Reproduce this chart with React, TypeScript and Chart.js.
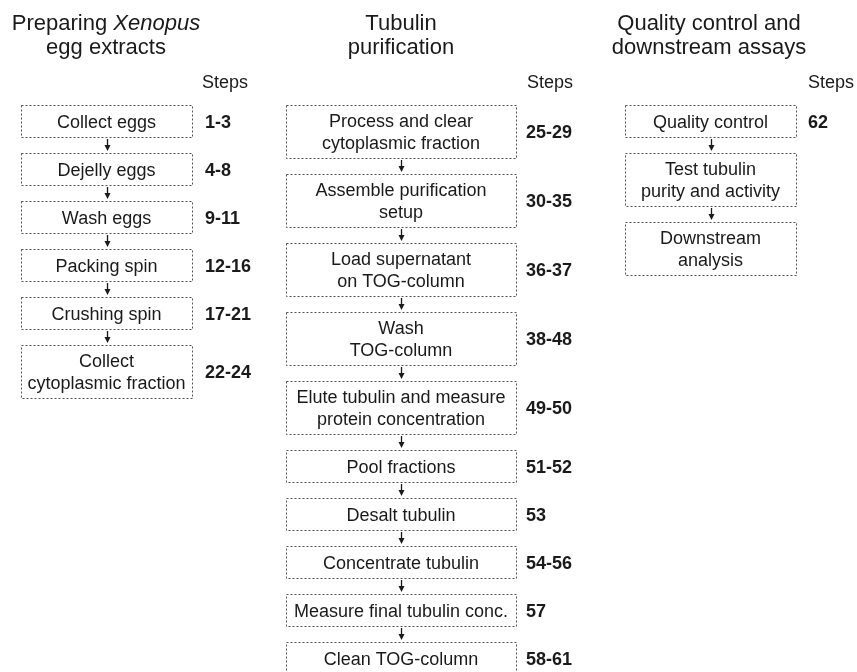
import React, { useEffect, useRef } from "react";
import { Chart, registerables } from "chart.js";

Chart.register(...registerables);

// ---- data ----
const columnTitles: string[][] = [
  ["Preparing *Xenopus*", "egg extracts"],
  ["Tubulin", "purification"],
  ["Quality control and", "downstream assays"],
];

const stepsHeader = "Steps";

const extractBoxes: string[] = [
  "Collect eggs",
  "Dejelly eggs",
  "Wash eggs",
  "Packing spin",
  "Crushing spin",
  "Collect\ncytoplasmic fraction",
];
const extractSteps: string[] = ["1-3", "4-8", "9-11", "12-16", "17-21", "22-24"];

const purificationBoxes: string[] = [
  "Process and clear\ncytoplasmic fraction",
  "Assemble purification\nsetup",
  "Load supernatant\non TOG-column",
  "Wash\nTOG-column",
  "Elute tubulin and measure\nprotein concentration",
  "Pool fractions",
  "Desalt tubulin",
  "Concentrate tubulin",
  "Measure final tubulin conc.",
  "Clean TOG-column",
];
const purificationSteps: string[] = [
  "25-29", "30-35", "36-37", "38-48", "49-50", "51-52", "53", "54-56", "57", "58-61",
];

const qualityBoxes: string[] = [
  "Quality control",
  "Test tubulin\npurity and activity",
  "Downstream\nanalysis",
];
const qualitySteps: string[] = ["62", "", ""];

const columnsBoxes = [extractBoxes, purificationBoxes, qualityBoxes];
const columnsSteps = [extractSteps, purificationSteps, qualitySteps];

// ---- layout (data units of the hidden linear scales) ----
const W = 857;
const H = 672;
const colCenter = [106.5, 401, 710.5];
const colBoxWidth = [171, 230, 171];
const colStepX = [205, 526, 808];
const colHeaderX = [202, 527, 808];
const titleCenter = [106, 401, 709];
const firstTop = 105;
const singleH = 32;
const doubleH = 53;
const gapH = 16;

const FONT = "'Liberation Sans', Arial, Helvetica, sans-serif";

function layoutColumn(boxes: string[]) {
  const out: { top: number; bottom: number; lines: string[] }[] = [];
  let y = firstTop;
  for (const b of boxes) {
    const lines = b.split("\n");
    const h = lines.length > 1 ? doubleH : singleH;
    out.push({ top: y, bottom: y + h, lines });
    y += h + gapH;
  }
  return out;
}

const flowPlugin = {
  id: "flowchart",
  afterDraw(chart: any) {
    const ctx: CanvasRenderingContext2D = chart.ctx;
    const xs = chart.scales.x;
    const ys = chart.scales.y;
    const px = (v: number) => xs.getPixelForValue(v);
    const py = (v: number) => ys.getPixelForValue(v);
    ctx.save();
    ctx.fillStyle = "#ffffff";
    ctx.fillRect(0, 0, chart.width, chart.height);

    // titles
    columnTitles.forEach((lines, ci) => {
      lines.forEach((line, li) => {
        const parts = line.split("*");
        const fonts = parts.map((_, i) =>
          i % 2 === 1 ? `italic 22px ${FONT}` : `22px ${FONT}`
        );
        let total = 0;
        const widths = parts.map((p, i) => {
          ctx.font = fonts[i];
          const w = ctx.measureText(p).width;
          total += w;
          return w;
        });
        let x = px(titleCenter[ci]) - total / 2;
        const base = py(30 + li * 24);
        ctx.fillStyle = "#1a1a1a";
        ctx.textAlign = "left";
        ctx.textBaseline = "alphabetic";
        parts.forEach((p, i) => {
          ctx.font = fonts[i];
          ctx.fillText(p, x, base);
          x += widths[i];
        });
      });
      ctx.font = `18px ${FONT}`;
      ctx.textAlign = "left";
      ctx.fillText(stepsHeader, px(colHeaderX[ci]), py(88));
    });

    // boxes
    columnsBoxes.forEach((boxes, ci) => {
      const lay = layoutColumn(boxes);
      const cx = colCenter[ci];
      const half = colBoxWidth[ci] / 2;
      lay.forEach((b, bi) => {
        const x0 = Math.round(px(cx - half)) + 0.5;
        const x1 = Math.round(px(cx + half)) + 0.5;
        const y0 = Math.round(py(b.top)) + 0.5;
        const y1 = Math.round(py(b.bottom)) + 0.5;
        ctx.strokeStyle = "#555555";
        ctx.lineWidth = 1;
        ctx.setLineDash([2, 2]);
        ctx.strokeRect(x0, y0, x1 - x0, y1 - y0);
        ctx.setLineDash([]);

        const mid = (b.top + b.bottom) / 2;
        ctx.fillStyle = "#1a1a1a";
        ctx.font = `18px ${FONT}`;
        ctx.textAlign = "center";
        ctx.textBaseline = "alphabetic";
        const lh = 21.5;
        const n = b.lines.length;
        b.lines.forEach((t, li) => {
          const yy = mid + (li - (n - 1) / 2) * lh + 6.5;
          ctx.fillText(t, px(cx), py(yy));
        });

        const st = columnsSteps[ci][bi];
        if (st) {
          ctx.font = `bold 18px ${FONT}`;
          ctx.textAlign = "left";
          ctx.fillText(st, px(colStepX[ci]), py(mid + 6.5));
        }

        // arrow to next
        if (bi < lay.length - 1) {
          const nt = lay[bi + 1].top;
          const ax = Math.round(px(cx)) + 0.5;
          const ya = py(b.bottom) + 2;
          const yb = py(nt) - 2;
          ctx.strokeStyle = "#1a1a1a";
          ctx.lineWidth = 1.3;
          ctx.beginPath();
          ctx.moveTo(ax, ya);
          ctx.lineTo(ax, yb - 4);
          ctx.stroke();
          ctx.fillStyle = "#1a1a1a";
          ctx.beginPath();
          ctx.moveTo(ax - 3, yb - 6);
          ctx.lineTo(ax + 3, yb - 6);
          ctx.lineTo(ax, yb);
          ctx.closePath();
          ctx.fill();
        }
      });
    });
    ctx.restore();
  },
};

export default function App() {
  const ref = useRef<HTMLCanvasElement | null>(null);
  useEffect(() => {
    document.body.style.margin = "0";
    if (!ref.current) return;
    const datasets = columnsBoxes.map((boxes, ci) => ({
      label: columnTitles[ci].join(" "),
      data: layoutColumn(boxes).map((b) => ({ x: colCenter[ci], y: (b.top + b.bottom) / 2 })),
      pointRadius: 0,
      showLine: false,
    }));
    const chart = new Chart(ref.current, {
      type: "scatter",
      data: { datasets },
      options: {
        animation: false,
        responsive: false,
        maintainAspectRatio: false,
        layout: { padding: 0 },
        plugins: { legend: { display: false }, tooltip: { enabled: false } },
        events: [],
        scales: {
          x: { type: "linear", min: 0, max: W, display: false },
          y: { type: "linear", min: 0, max: H, reverse: true, display: false },
        },
      },
      plugins: [flowPlugin],
    });
    return () => chart.destroy();
  }, []);
  return (
    <div style={{ width: W, height: H, overflow: "hidden" }}>
      <canvas ref={ref} width={W} height={H} style={{ display: "block" }} />
    </div>
  );
}
